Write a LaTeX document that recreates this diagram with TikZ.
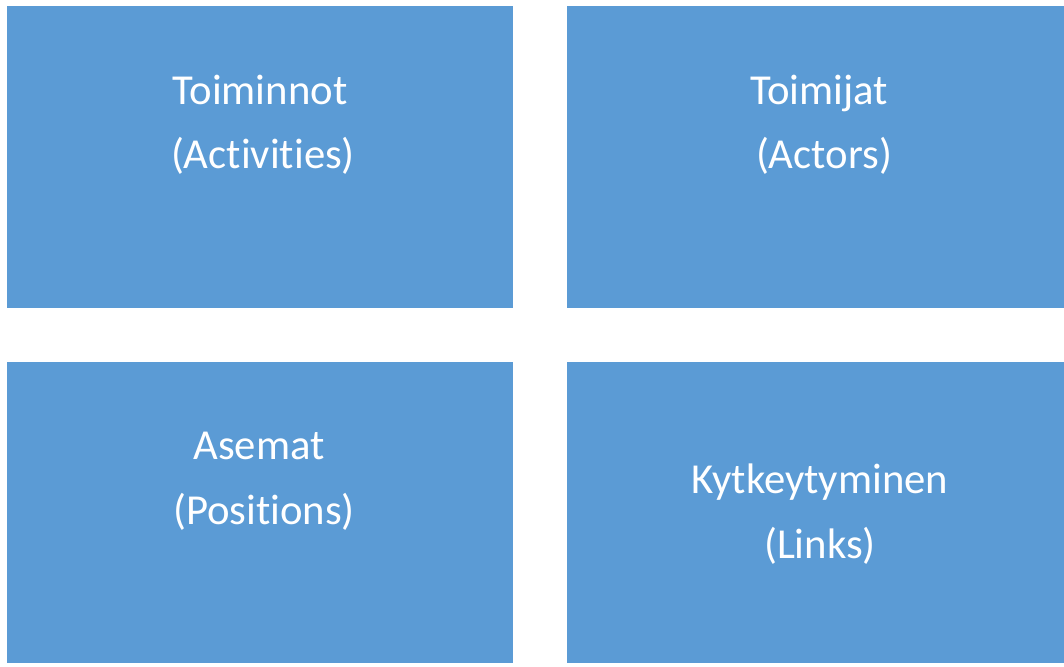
\documentclass[tikz,border=0pt]{standalone}
\usepackage{fontspec}
\setmainfont[Ligatures={NoCommon}]{Carlito}
\definecolor{boxblue}{HTML}{5B9BD5}
\tikzset{
  panel/.style={fill=boxblue, draw=none},
  lbl/.style={text=white, font=\fontsize{42.7}{50}\selectfont, anchor=base, inner sep=0pt}
}
\begin{document}
\begin{tikzpicture}[x=1pt,y=-1pt]
\useasboundingbox (0,0) rectangle (1064,666);
\fill[white] (0,0) rectangle (1064,666);
\path[panel] (7,6) rectangle (513,308);
\path[panel] (567,6) rectangle (1064,308);
\path[panel] (7,362) rectangle (513,663);
\path[panel] (567,362) rectangle (1064,663);
\node[lbl] (t1a) at (260,104) {Toiminnot};
\node[lbl] (t1b) at (263,168) {(Activities)};
\node[lbl] (t2a) at (819,104) {Toimijat};
\node[lbl] (t2b) at (824,168) {(Actors)};
\node[lbl] (t3a) at (259,459) {Asemat};
\node[lbl] (t3b) at (264,524) {(Positions)};
\node[lbl] (t4a) at (820,493) {Kytkeytyminen};
\node[lbl] (t4b) at (820,558) {(Links)};
\end{tikzpicture}
\end{document}
